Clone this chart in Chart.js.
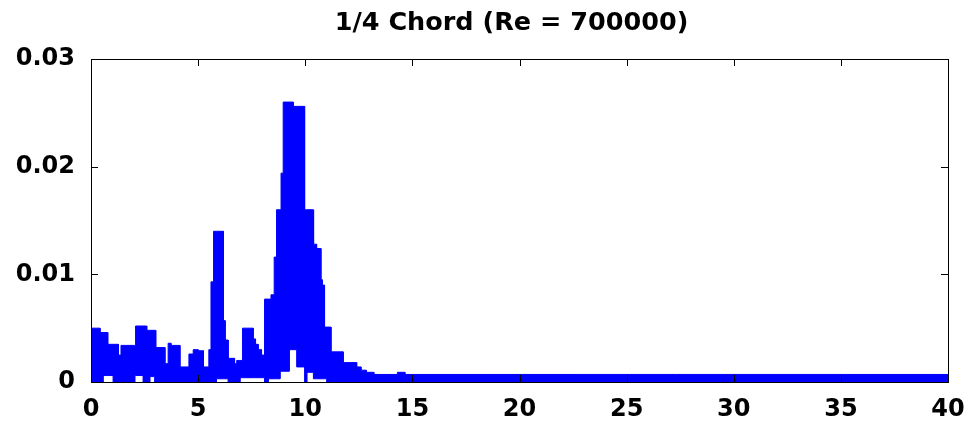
<!DOCTYPE html>
<html>
<head>
<meta charset="utf-8">
<script src="https://cdn.jsdelivr.net/npm/chart.js@4/dist/chart.umd.min.js"></script>
<style>
  html, body { margin: 0; padding: 0; background: #fff; }
  #wrap { width: 968px; height: 434px; }
</style>
</head>
<body>
<div id="wrap"><canvas id="c" width="968" height="434"></canvas></div>
<script>
// ---- data ----
const chartTitle = "1/4 Chord (Re = 700000)";
const freq = [0, 0.42, 0.56, 0.78, 1.03, 1.28, 1.40, 2.04, 2.08, 2.43, 2.6, 2.74, 2.97, 3.02, 3.45, 3.6, 3.73, 4.15, 4.57, 4.77, 5.0, 5.25, 5.5, 5.6, 5.72, 5.85, 6.18, 6.26, 6.4, 6.7, 6.8, 6.95, 7.07, 7.57, 7.68, 7.8, 7.96, 8.1, 8.27, 8.4, 8.55, 8.66, 8.82, 8.87, 8.97, 9.25, 9.44, 9.6, 9.97, 10.07, 10.37, 10.4, 10.53, 10.73, 10.79, 10.9, 11.0, 11.2, 11.77, 12.4, 12.6, 12.85, 13.2, 14.3, 14.65, 40];
const upper = [0.0050, 0.0046, 0.0046, 0.0035, 0.0035, 0.0025, 0.0034, 0.0034, 0.0052, 0.0052, 0.0048, 0.0048, 0.0048, 0.0032, 0.0017, 0.0036, 0.0034, 0.0014, 0.0026, 0.0030, 0.0029, 0.0014, 0.0030, 0.0093, 0.0140, 0.0140, 0.0057, 0.0039, 0.0022, 0.0017, 0.0020, 0.0020, 0.0050, 0.0040, 0.0035, 0.0030, 0.0025, 0.0077, 0.0077, 0.0081, 0.0116, 0.0160, 0.0160, 0.0194, 0.0260, 0.0260, 0.0256, 0.0256, 0.0160, 0.0160, 0.0128, 0.0128, 0.0124, 0.0095, 0.0090, 0.0051, 0.0051, 0.0028, 0.0018, 0.0014, 0.0011, 0.0009, 0.0007, 0.0009, 0.0007, 0.0007];
const lower = [0, 0, 0.0006, 0.0006, 0, 0, 0, 0.0006, 0.0006, 0, 0, 0.0005, 0, 0, 0, 0, 0, 0, 0, 0, 0, 0, 0, 0, 0, 0.0003, 0.0003, 0.0003, 0, 0, 0, 0.0004, 0.0004, 0.0004, 0.0004, 0.0004, 0.0004, 0, 0.0003, 0.0003, 0.0003, 0.0003, 0.0010, 0.0010, 0.0010, 0.0030, 0.0030, 0.0014, 0, 0.0009, 0.0009, 0.0003, 0.0003, 0.0003, 0.0003, 0.0003, 0, 0, 0, 0, 0, 0, 0, 0, 0, 0];
const xTicks = [0, 5, 10, 15, 20, 25, 30, 35, 40];
const yTicks = [0, 0.01, 0.02, 0.03];

// Closed outline of the band: upper envelope left->right (held steps),
// then lower envelope right->left.
const bandPts = [];
for (let i = 0; i < freq.length - 1; i++) {
  bandPts.push({ x: freq[i], y: upper[i] });
  bandPts.push({ x: freq[i + 1], y: upper[i] });
}
for (let i = freq.length - 2; i >= 0; i--) {
  bandPts.push({ x: freq[i + 1], y: lower[i] });
  bandPts.push({ x: freq[i], y: lower[i] });
}

const FONT = "'DejaVu Sans', 'Liberation Sans', Arial, sans-serif";
const BLUE = '#0000ff';

const framePlugin = {
  id: 'frame',
  afterDatasetsDraw(chart) {
    const { ctx, chartArea: a, scales } = chart;
    ctx.save();
    ctx.strokeStyle = '#000';
    ctx.lineWidth = 1;
    ctx.strokeRect(Math.round(a.left) + 0.5, Math.round(a.top) + 0.5,
                   Math.round(a.right - a.left), Math.round(a.bottom - a.top));
    const L = 7;
    ctx.beginPath();
    xTicks.forEach(v => {
      const px = Math.round(scales.x.getPixelForValue(v)) + 0.5;
      ctx.moveTo(px, a.bottom); ctx.lineTo(px, a.bottom - L);
      ctx.moveTo(px, a.top); ctx.lineTo(px, a.top + L);
    });
    yTicks.forEach(v => {
      const py = Math.round(scales.y.getPixelForValue(v)) + 0.5;
      ctx.moveTo(a.left, py); ctx.lineTo(a.left + L, py);
      ctx.moveTo(a.right, py); ctx.lineTo(a.right - L, py);
    });
    ctx.stroke();
    ctx.restore();
  },
  afterDraw(chart) {
    const { ctx, chartArea: a } = chart;
    ctx.save();
    ctx.fillStyle = '#000';
    ctx.font = "bold 25.5px " + FONT;
    ctx.textAlign = 'center';
    ctx.textBaseline = 'middle';
    ctx.fillText(chartTitle, (a.left + a.right) / 2 - 8, 23);
    ctx.restore();
  }
};

new Chart(document.getElementById('c'), {
  type: 'line',
  data: {
    datasets: [
      {
        label: 'spectrum',
        data: bandPts,
        borderColor: BLUE,
        borderWidth: 1,
        backgroundColor: BLUE,
        pointRadius: 0,
        tension: 0,
        fill: 'shape'
      }
    ]
  },
  options: {
    responsive: false,
    animation: false,
    devicePixelRatio: 1,
    layout: { padding: { top: 59, right: 20, left: 0, bottom: 0 } },
    plugins: {
      legend: { display: false },
      title: { display: false },
      tooltip: { enabled: false }
    },
    scales: {
      x: {
        type: 'linear',
        min: 0, max: 40,
        afterBuildTicks: s => { s.ticks = xTicks.map(v => ({ value: v })); },
        ticks: { color: '#000', font: { family: FONT, size: 24, weight: 'bold' }, padding: 13, maxRotation: 0 },
        grid: { display: false, drawTicks: false },
        border: { display: false },
        afterFit: s => { s.height = 52; s.paddingLeft = 0; s.paddingRight = 0; }
      },
      y: {
        type: 'linear',
        min: 0, max: 0.03,
        afterBuildTicks: s => { s.ticks = yTicks.map(v => ({ value: v })); },
        ticks: {
          color: '#000', font: { family: FONT, size: 24, weight: 'bold' }, padding: 16,
          callback: v => (v === 0 ? '0' : v.toFixed(2))
        },
        grid: { display: false, drawTicks: false },
        border: { display: false },
        afterFit: s => { s.width = 91; s.paddingTop = 0; s.paddingBottom = 0; }
      }
    }
  },
  plugins: [framePlugin]
});
</script>
</body>
</html>
